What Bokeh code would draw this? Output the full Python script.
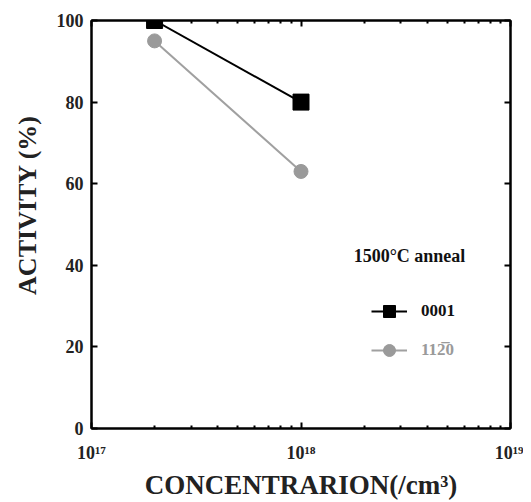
from bokeh.plotting import figure
from bokeh.models import LogAxis, LinearAxis, Legend, LegendItem, FixedTicker, Range1d, Label
from bokeh.embed import file_html
from bokeh.resources import INLINE

concentration = [2e17, 1e18]
activity_0001 = [100, 80]
activity_1120 = [95, 63]
x_tick_values = [1e17, 1e18, 1e19]
x_tick_labels = ["10\u00b9\u2077", "10\u00b9\u2078", "10\u00b9\u2079"]
y_tick_values = [0, 20, 40, 60, 80, 100]
legend_title = "1500\u00b0C anneal"
label_0001 = "0001"
label_1120 = "112\u03050"

FONT = "Liberation Serif"
x_minor = [float(m) * 10.0 ** e for e in (17, 18) for m in range(2, 10)]

p = figure(width=523, height=502, x_axis_type="log", output_backend="svg",
           toolbar_location=None, x_range=Range1d(1e17, 1e19), y_range=Range1d(0, 100),
           min_border_left=91, min_border_right=13, min_border_top=20, min_border_bottom=74)
p.grid.visible = False
p.outline_line_color = "black"
p.outline_line_width = 2

def style_axis(ax):
    ax.axis_line_width = 2
    ax.major_tick_in = 6
    ax.major_tick_out = 0
    ax.minor_tick_in = 3
    ax.minor_tick_out = 0
    ax.major_tick_line_width = 2
    ax.minor_tick_line_width = 2
    ax.major_label_text_font = FONT
    ax.major_label_text_font_style = "bold"
    ax.major_label_text_font_size = "18px"
    ax.major_label_text_color = "#222222"
    ax.axis_label_text_font = FONT
    ax.axis_label_text_font_style = "bold"
    ax.axis_label_text_font_size = "27px"
    ax.axis_label_text_color = "#222222"

xa = p.xaxis[0]
style_axis(xa)
xa.ticker = FixedTicker(ticks=x_tick_values, minor_ticks=x_minor)
xa.major_label_overrides = {v: l for v, l in zip(x_tick_values, x_tick_labels)}
xa.axis_label = "CONCENTRARION(/cm\u00b3)"
xa.axis_label_standoff = 4
xa.major_label_standoff = 14

ya = p.yaxis[0]
style_axis(ya)
ya.ticker = FixedTicker(ticks=y_tick_values)
ya.minor_tick_in = 0
ya.axis_label = "\u00a0" * 6 + "ACTIVITY (%)"
ya.axis_label_text_font_size = "26px"
ya.axis_label_standoff = 12
ya.major_label_standoff = 8

top = LogAxis()
style_axis(top)
top.ticker = FixedTicker(ticks=x_tick_values, minor_ticks=x_minor)
top.major_label_overrides = {v: "" for v in x_tick_values}
p.add_layout(top, "above")

right = LinearAxis()
style_axis(right)
right.ticker = FixedTicker(ticks=y_tick_values)
right.minor_tick_in = 0
right.major_label_overrides = {v: "" for v in y_tick_values}
p.add_layout(right, "right")

l1 = p.line(concentration, activity_0001, line_color="black", line_width=2)
m1 = p.scatter(concentration, activity_0001, marker="square", size=16, fill_color="black", line_color="black")
l2 = p.line(concentration, activity_1120, line_color="#a0a0a0", line_width=2)
m2 = p.scatter(concentration, activity_1120, marker="circle", size=14, fill_color="#9a9a9a", line_color="#9a9a9a")

def style_legend(lg):
    lg.background_fill_alpha = 0
    lg.border_line_alpha = 0
    lg.label_text_font = FONT
    lg.label_text_font_style = "bold"
    lg.label_text_font_size = "17px"
    lg.glyph_width = 36
    lg.glyph_height = 30
    lg.label_standoff = 14

leg1 = Legend(items=[LegendItem(label=label_0001, renderers=[l1, m1])], location=(270, 92))
style_legend(leg1)
leg1.label_text_color = "#111111"
p.add_layout(leg1)

leg2 = Legend(items=[LegendItem(label=label_1120, renderers=[l2, m2])], location=(270, 53))
style_legend(leg2)
leg2.label_text_color = "#9a9a9a"
p.add_layout(leg2)

title = Label(x=318, y=173, x_units="screen", y_units="screen", text=legend_title,
              text_font=FONT, text_font_style="bold", text_font_size="18px",
              text_color="#111111", text_align="center", text_baseline="middle")
p.add_layout(title)

open("out.html", "w").write(file_html(p, INLINE))
